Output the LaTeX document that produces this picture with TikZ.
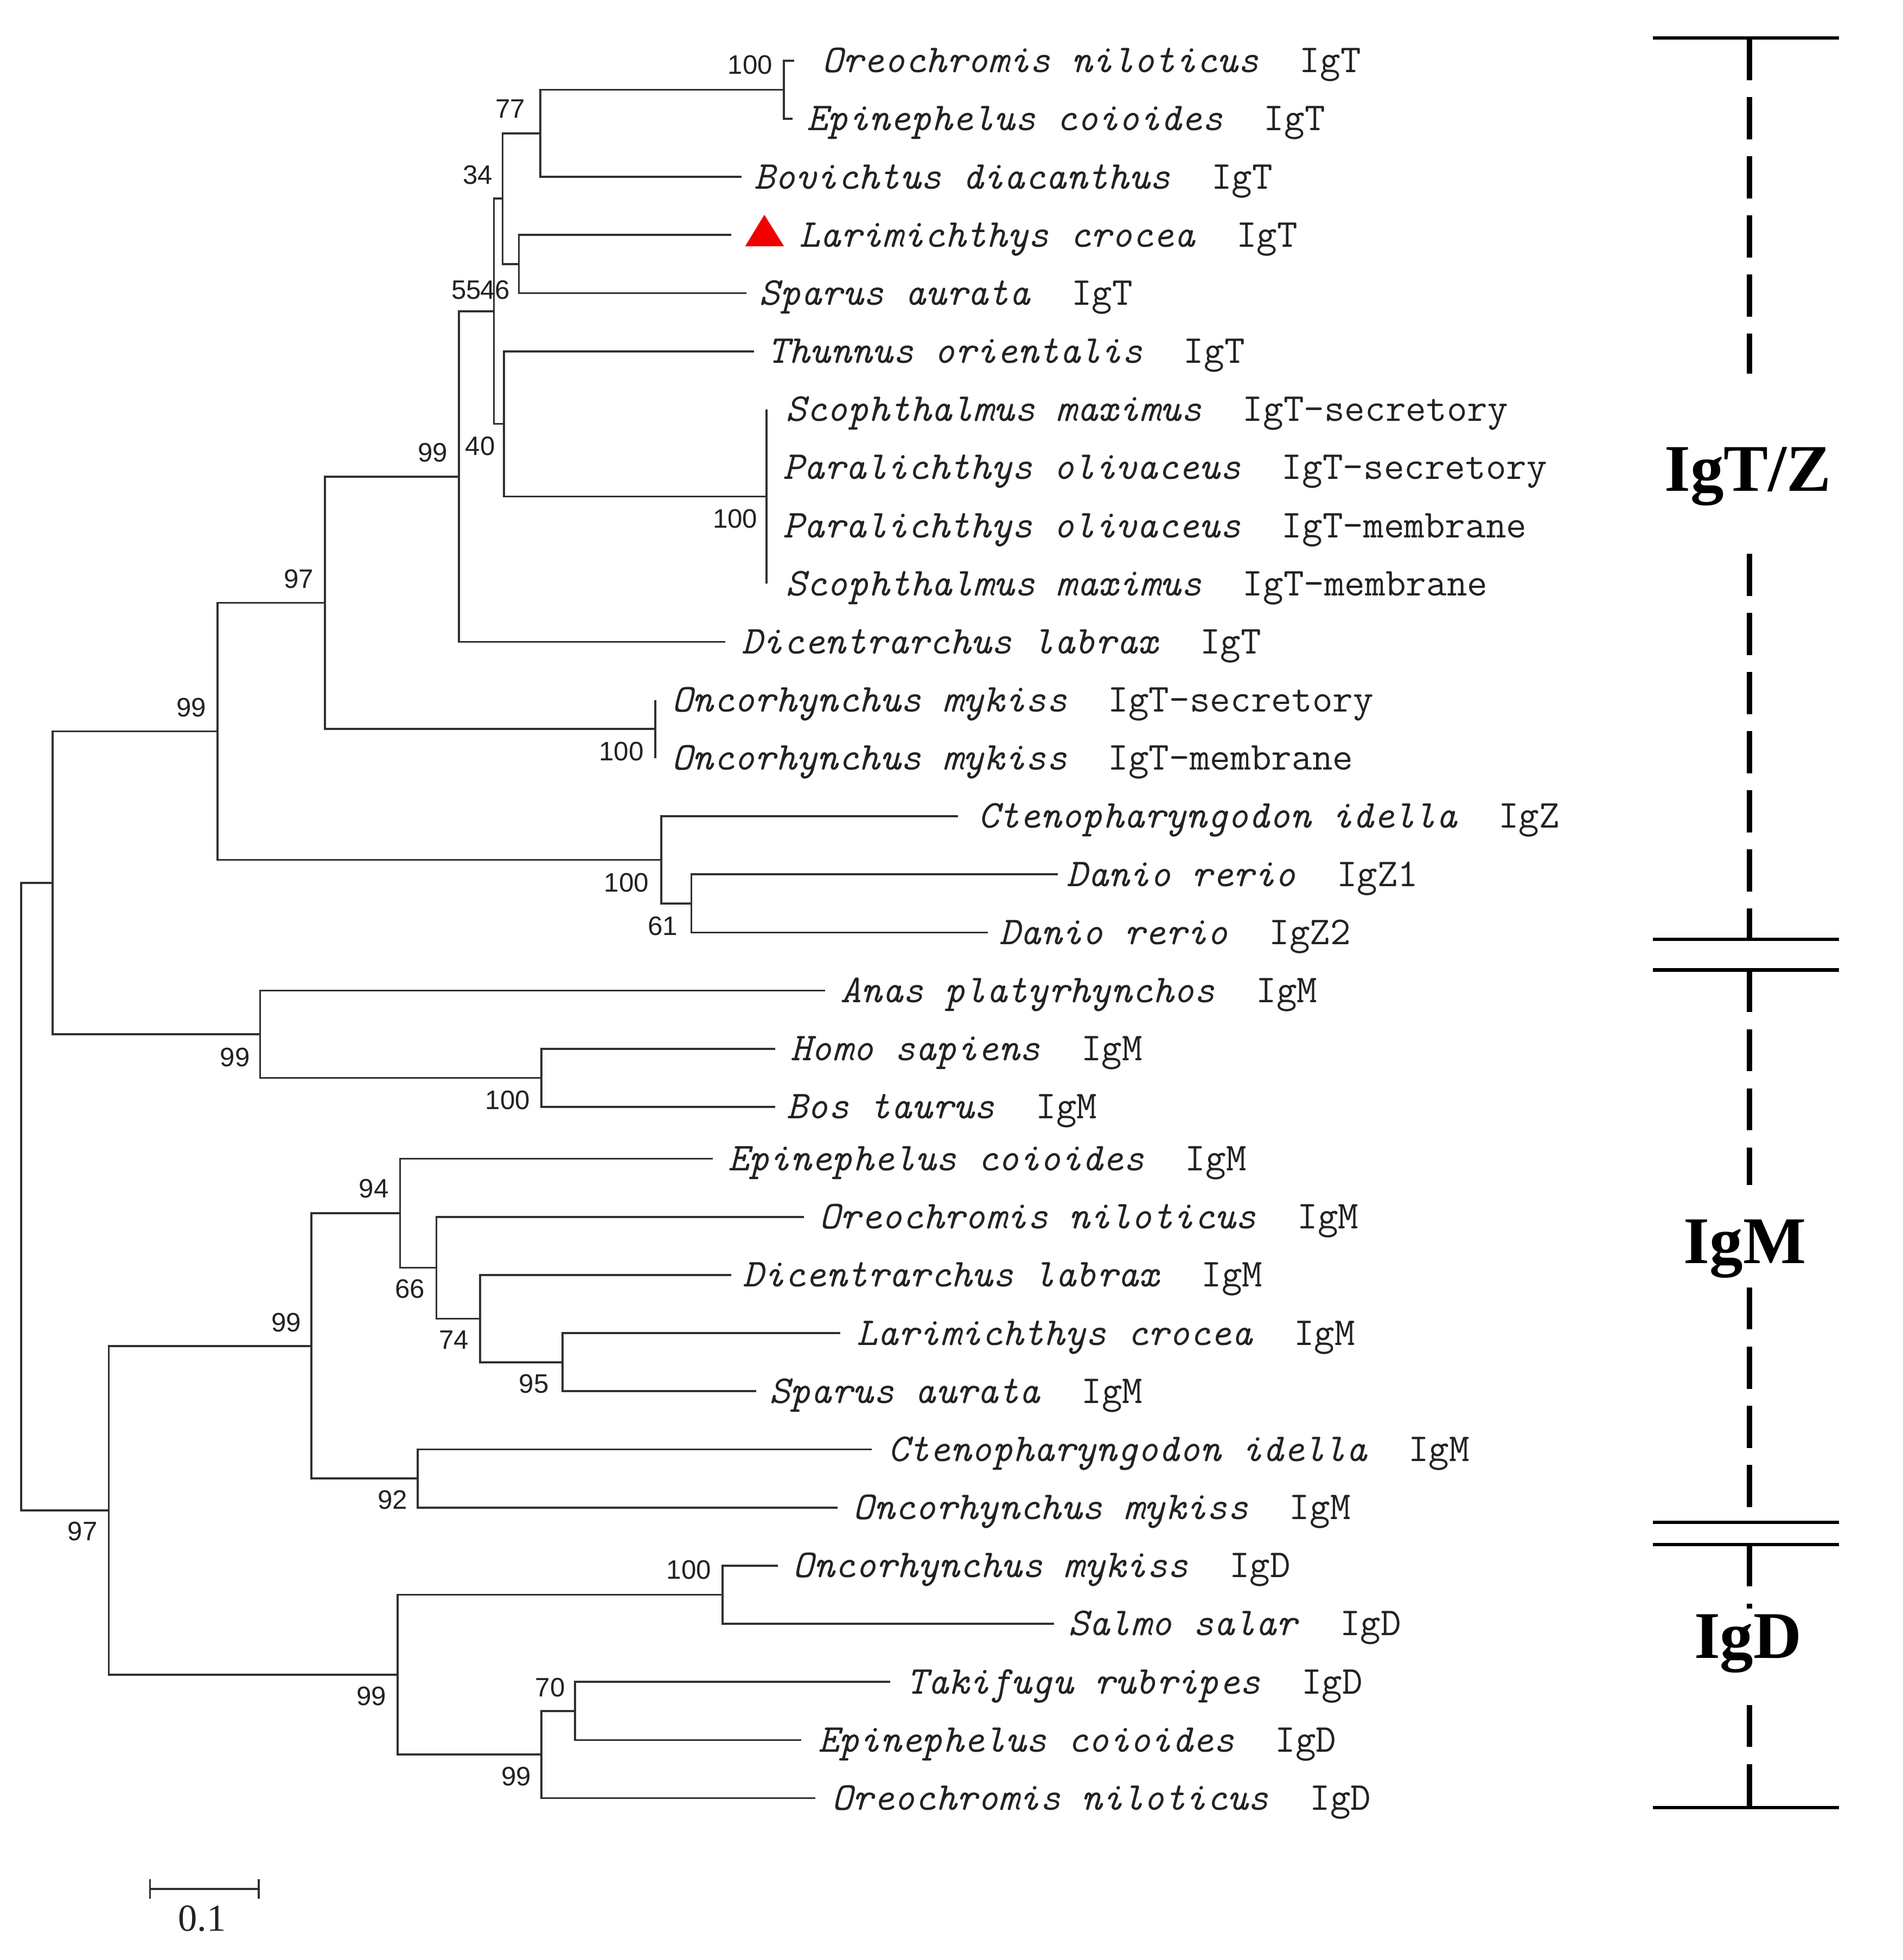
\documentclass[tikz,border=0pt]{standalone}
\usepackage{fontspec}
\newfontfamily\bsfont{Liberation Sans}
\newfontfamily\cladefont{Liberation Serif}
\definecolor{treegray}{HTML}{303030}
\definecolor{txtgray}{HTML}{222222}
\newcommand\mkleaf[6]{%
  \coordinate (e#1) at (#2,#4);
  \node[taxon] (t#1) at (#3,#4+9.5) {\textit{#5}\ \ #6};}
\begin{document}
\begin{tikzpicture}[x=0.02305cm, y=-0.02305cm,
  branch/.style={draw=treegray, line width=1.05pt, line join=miter},
  taxon/.style={anchor=base west, inner sep=0pt, font=\fontsize{20.8}{24}\selectfont\ttfamily, text=txtgray},
  boot/.style={inner sep=0pt, font=\fontsize{14}{16}\selectfont\bsfont, text=txtgray},
  clade/.style={anchor=base, inner sep=0pt, font=\fontsize{35}{40}\selectfont\cladefont\bfseries},
  bar/.style={line width=1.8pt},
  dashbar/.style={line width=2.85pt, dash pattern=on 0.775cm off 0.316cm}]
\useasboundingbox[fill=white] (0,0) rectangle (1522,1568);

% leaves: index, line end, text start, y, species, isotype
\mkleaf{1}{635}{657}{48.5}{Oreochromis niloticus}{IgT}
\mkleaf{2}{634}{645}{95}{Epinephelus coioides}{IgT}
\mkleaf{3}{593}{603}{141.5}{Bovichtus diacanthus}{IgT}
\mkleaf{4}{585}{639}{188}{Larimichthys crocea}{IgT}
\mkleaf{5}{597}{607}{234.5}{Sparus aurata}{IgT}
\mkleaf{6}{603}{614}{281}{Thunnus orientalis}{IgT}
\mkleaf{7}{613}{628}{327.5}{Scophthalmus maximus}{IgT-secretory}
\mkleaf{8}{613}{626}{374}{Paralichthys olivaceus}{IgT-secretory}
\mkleaf{9}{613}{626}{420.5}{Paralichthys olivaceus}{IgT-membrane}
\mkleaf{10}{613}{628}{467}{Scophthalmus maximus}{IgT-membrane}
\mkleaf{11}{580}{593}{513.5}{Dicentrarchus labrax}{IgT}
\mkleaf{12}{524}{537}{560}{Oncorhynchus mykiss}{IgT-secretory}
\mkleaf{13}{524}{537}{606.5}{Oncorhynchus mykiss}{IgT-membrane}
\mkleaf{14}{766}{782}{653}{Ctenopharyngodon idella}{IgZ}
\mkleaf{15}{846}{853}{699.5}{Danio rerio}{IgZ1}
\mkleaf{16}{790}{799}{746}{Danio rerio}{IgZ2}
\mkleaf{17}{660}{672}{792.5}{Anas platyrhynchos}{IgM}
\mkleaf{18}{620}{632}{839}{Homo sapiens}{IgM}
\mkleaf{19}{620}{629}{885.5}{Bos taurus}{IgM}
\mkleaf{20}{570}{582}{927}{Epinephelus coioides}{IgM}
\mkleaf{21}{643}{655}{973.5}{Oreochromis niloticus}{IgM}
\mkleaf{22}{585}{594}{1020}{Dicentrarchus labrax}{IgM}
\mkleaf{23}{672}{685}{1066.5}{Larimichthys crocea}{IgM}
\mkleaf{24}{605}{615}{1113}{Sparus aurata}{IgM}
\mkleaf{25}{697}{710}{1159.5}{Ctenopharyngodon idella}{IgM}
\mkleaf{26}{670}{682}{1206}{Oncorhynchus mykiss}{IgM}
\mkleaf{27}{622}{634}{1252.5}{Oncorhynchus mykiss}{IgD}
\mkleaf{28}{843}{854}{1299}{Salmo salar}{IgD}
\mkleaf{29}{712}{725}{1345.5}{Takifugu rubripes}{IgD}
\mkleaf{30}{641}{654}{1392}{Epinephelus coioides}{IgD}
\mkleaf{31}{652}{665}{1438.5}{Oreochromis niloticus}{IgD}

% internal nodes
\coordinate (a1) at (627,71.75);
\coordinate (n77) at (432,106.6);
\coordinate (n46) at (415,211.25);
\coordinate (n34) at (402,158.9);
\coordinate (nfl) at (613,397.25);
\coordinate (n40) at (403,339.1);
\coordinate (n55) at (395,249);
\coordinate (nD) at (367,381.25);
\coordinate (nOm) at (524,583.25);
\coordinate (nC) at (260,482.25);
\coordinate (n61) at (553,722.75);
\coordinate (nZ) at (529,687.9);
\coordinate (nB) at (174,585.1);
\coordinate (nHB) at (433,862.25);
\coordinate (nTet) at (208,827.4);
\coordinate (nA) at (42,706.25);
\coordinate (n95) at (450,1089.75);
\coordinate (n74) at (384,1054.9);
\coordinate (n66) at (349,1014.2);
\coordinate (n94) at (320,970.6);
\coordinate (n92) at (334,1182.75);
\coordinate (nM) at (249,1076.7);
\coordinate (nDs) at (578,1275.75);
\coordinate (n70) at (460,1368.75);
\coordinate (nDi) at (433,1403.6);
\coordinate (nDD) at (318,1339.7);
\coordinate (nMD) at (87,1208.2);
\coordinate (root) at (17,957);

% branches
\draw[branch] (e1) -| (a1) |- (e2);
\draw[branch] (a1) -| (n77) |- (e3);
\draw[branch] (e4) -| (n46) |- (e5);
\draw[branch] (n77) -| (n34) |- (n46);
\draw[branch] (e7) -| (nfl) |- (e10);
\draw[branch] (e6) -| (n40) |- (nfl);
\draw[branch] (n34) -| (n55) |- (n40);
\draw[branch] (n55) -| (nD) |- (e11);
\draw[branch] (e12) -| (nOm) |- (e13);
\draw[branch] (nD) -| (nC) |- (nOm);
\draw[branch] (e15) -| (n61) |- (e16);
\draw[branch] (e14) -| (nZ) |- (n61);
\draw[branch] (nC) -| (nB) |- (nZ);
\draw[branch] (e18) -| (nHB) |- (e19);
\draw[branch] (e17) -| (nTet) |- (nHB);
\draw[branch] (nB) -| (nA) |- (nTet);
\draw[branch] (e23) -| (n95) |- (e24);
\draw[branch] (e22) -| (n74) |- (n95);
\draw[branch] (e21) -| (n66) |- (n74);
\draw[branch] (e20) -| (n94) |- (n66);
\draw[branch] (e25) -| (n92) |- (e26);
\draw[branch] (n94) -| (nM) |- (n92);
\draw[branch] (e27) -| (nDs) |- (e28);
\draw[branch] (e29) -| (n70) |- (e30);
\draw[branch] (n70) -| (nDi) |- (e31);
\draw[branch] (nDs) -| (nDD) |- (nDi);
\draw[branch] (nM) -| (nMD) |- (nDD);
\draw[branch] (nA) -| (root) |- (nMD);

% red triangle marker
\fill[red!95!black] (596,197) -- (611.3,171.8) -- (627,197) -- cycle;

% bootstrap values
\node[boot] (b1) at (600,52) {100};
\node[boot] (b2) at (408,87) {77};
\node[boot] (b3) at (382,140) {34};
\node[boot] (b4) at (373,232) {55};
\node[boot] (b5) at (396,232) {46};
\node[boot] (b6) at (384,357) {40};
\node[boot] (b7) at (588,415) {100};
\node[boot] (b8) at (346,362) {99};
\node[boot] (b9) at (239,463) {97};
\node[boot] (b10) at (153,566) {99};
\node[boot] (b11) at (497,601) {100};
\node[boot] (b12) at (501,706) {100};
\node[boot] (b13) at (530,741) {61};
\node[boot] (b14) at (188,846) {99};
\node[boot] (b15) at (406,880) {100};
\node[boot] (b16) at (299,951) {94};
\node[boot] (b17) at (328,1031) {66};
\node[boot] (b18) at (363,1072) {74};
\node[boot] (b19) at (427,1107) {95};
\node[boot] (b20) at (229,1058) {99};
\node[boot] (b21) at (314,1200) {92};
\node[boot] (b22) at (66,1225) {97};
\node[boot] (b23) at (551,1256) {100};
\node[boot] (b24) at (297,1357) {99};
\node[boot] (b25) at (440,1350) {70};
\node[boot] (b26) at (413,1421) {99};

% scale bar
\coordinate (s1) at (120,1511);
\coordinate (s2) at (207,1511);
\draw[branch] (s1) -- (s2);
\draw[branch] ([yshift=0.18cm]s1) -- ([yshift=-0.18cm]s1);
\draw[branch] ([yshift=0.18cm]s2) -- ([yshift=-0.18cm]s2);
\node[inner sep=0pt, font=\fontsize{20}{24}\selectfont\cladefont, text=txtgray] (sl) at (161.5,1535) {0.1};

% clade brackets
\draw[bar] (1322,30.4) -- (1471,30.4);
\draw[bar] (1322,751.4) -- (1471,751.4);
\draw[bar] (1322,776) -- (1471,776);
\draw[bar] (1322,1218) -- (1471,1218);
\draw[bar] (1322,1235.6) -- (1471,1235.6);
\draw[bar] (1322,1446) -- (1471,1446);
\draw[dashbar] (1399,30.4) -- (1399,299);
\draw[dashbar] (1399,443) -- (1399,751.4);
\draw[dashbar] (1399,776) -- (1399,948);
\draw[dashbar] (1399,1030) -- (1399,1218);
\draw[dashbar] (1399,1235.6) -- (1399,1287);
\draw[dashbar] (1399,1364) -- (1399,1446);
\node[clade] (cT) at (1398,393) {IgT/Z};
\node[clade] (cM) at (1395.5,1010.5) {IgM};
\node[clade] (cD) at (1398,1326.7) {IgD};
\end{tikzpicture}
\end{document}
